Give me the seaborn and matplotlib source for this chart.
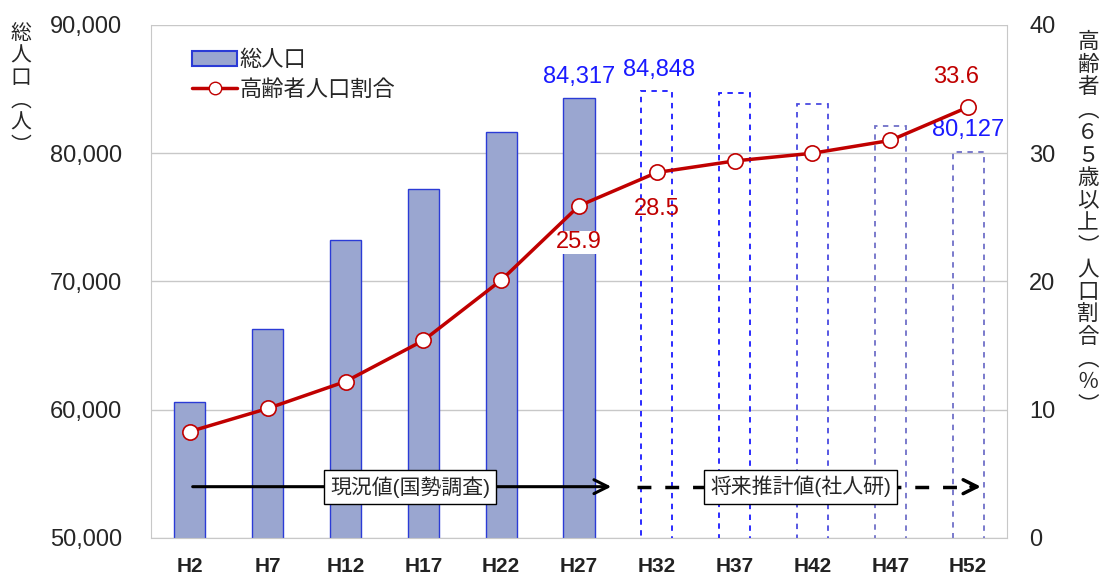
import numpy as np
import pandas as pd
import seaborn as sns
import matplotlib.pyplot as plt
from matplotlib.patches import Patch
from matplotlib.lines import Line2D

# data
years = ["H2", "H7", "H12", "H17", "H22", "H27", "H32", "H37", "H42", "H47", "H52"]
population = [60600, 66300, 73240, 77210, 81660, 84317, 84848, 84700, 83840, 82120, 80127]
elderly_ratio = [8.3, 10.1, 12.2, 15.4, 20.1, 25.9, 28.5, 29.4, 30.0, 31.0, 33.6]
n_actual = 6  # H2..H27 are census values, rest are projections

sns.set_style("white")
plt.rcParams['font.family'] = ['Liberation Sans', 'Noto Sans CJK JP', 'DejaVu Sans']

df = pd.DataFrame({"year": years, "pop": population, "ratio": elderly_ratio})
df["pos"] = np.arange(len(df))

W, H = 1107, 584
fig = plt.figure(figsize=(W / 100, H / 100), dpi=100)
ax = fig.add_axes([0.1364, 0.0788, 0.7733, 0.8784])

sns.barplot(data=df, x="year", y="pop", width=0.4, color="#9aa6d0",
            saturation=1, edgecolor="#2b3bd6", linewidth=1, ax=ax)
future_edges = ["#1a1aff", "#1a1aff", "#4a4ae0", "#7070c8", "#7070c8"]
for i, p in enumerate(ax.patches[n_actual:]):
    p.set_facecolor("none")
    p.set_linestyle((0, (3, 3)))
    p.set_edgecolor(future_edges[i])
    p.set_linewidth(1.3)

ax.set_ylim(50000, 90000)
ax.set_yticks([50000, 60000, 70000, 80000, 90000])
ax.set_yticklabels([f"{v:,}" for v in ax.get_yticks()], fontsize=17)
ax.set_xlim(-0.5, len(years) - 0.5)
ax.set_xlabel("")
ax.set_ylabel("")
ax.set_xticklabels(years, fontsize=15, fontweight="bold", color="#222222")
ax.tick_params(axis="x", length=0, pad=14)
ax.tick_params(axis="y", length=0, pad=21)
ax.yaxis.grid(True, color="#c8c8c8", lw=1)
ax.set_axisbelow(True)
for s in ["left", "bottom", "right", "top"]:
    ax.spines[s].set_color("#c8c8c8")
ax.spines["top"].set_visible(False)

ax2 = ax.twinx()
sns.lineplot(data=df, x="pos", y="ratio", color="#c00000", lw=2.5, marker="o",
             markersize=11, markerfacecolor="white", markeredgecolor="#c00000",
             markeredgewidth=1.2, ax=ax2)
ax2.set_ylim(0, 40)
ax2.set_yticks([0, 10, 20, 30, 40])
ax2.set_yticklabels(["0", "10", "20", "30", "40"], fontsize=17)
ax2.tick_params(axis="y", length=0, pad=16)
ax2.set_ylabel("")
ax2.set_xlabel("")
for s in ["left", "bottom", "right", "top"]:
    ax2.spines[s].set_visible(False)

# bar value labels
ax.text(5, population[5] + 800, "84,317", color="#1a1aff", fontsize=17, ha="center", va="bottom")
ax.text(6.03, population[6] + 800, "84,848", color="#1a1aff", fontsize=17, ha="center", va="bottom")
ax.text(10, population[10] + 800, "80,127", color="#1a1aff", fontsize=17, ha="center", va="bottom",
        bbox=dict(fc="white", ec="none", pad=0.5))

# ratio labels
ax2.text(5, elderly_ratio[5] - 2.0, "25.9", color="#c00000", fontsize=17, ha="center", va="top",
         bbox=dict(fc="white", ec="none", pad=0.5))
ax2.text(6, elderly_ratio[6] - 2.0, "28.5", color="#c00000", fontsize=17, ha="center", va="top")
ax2.text(9.85, elderly_ratio[10] + 1.5, "33.6", color="#c00000", fontsize=17, ha="center", va="bottom")

# arrows: census / projection
ax2.annotate("", xy=(5.45, 4), xytext=(0, 4),
             arrowprops=dict(arrowstyle="->", lw=2.2, color="black", mutation_scale=25))
ax2.plot([5.75, 10.05], [4, 4], ls=(0, (4, 4)), lw=2.5, color="black")
ax2.annotate("", xy=(10.2, 4), xytext=(10.0, 4),
             arrowprops=dict(arrowstyle="->", lw=2.5, color="black", mutation_scale=25))
ax2.text(2.83, 4, "現況値(国勢調査)", fontsize=15, ha="center", va="center",
         bbox=dict(boxstyle="square,pad=0.3", fc="white", ec="black", lw=1))
ax2.text(7.85, 4, "将来推計値(社人研)", fontsize=15, ha="center", va="center",
         bbox=dict(boxstyle="square,pad=0.3", fc="white", ec="black", lw=1))

# legend
handles = [Patch(fc="#9aa6d0", ec="#2b3bd6", lw=1.5),
           Line2D([], [], color="#c00000", lw=2.5, marker="o", markersize=9,
                  markerfacecolor="white", markeredgecolor="#c00000")]
ax2.legend(handles, ["総人口", "高齢者人口割合"], loc="upper left",
           bbox_to_anchor=(0.025, 0.99), frameon=False, fontsize=16,
           handlelength=2.0, handletextpad=0.1, labelspacing=0.4)


# vertical (tategaki) axis titles, one character per row
def vertical_label(text, x_px, y0_px, step_px, size):
    for k, ch in enumerate(text):
        fig.text(x_px / W, 1 - (y0_px + k * step_px) / H, ch, fontsize=size,
                 family=['Noto Sans CJK JP', 'DejaVu Sans'], ha="center", va="center")


vertical_label("総人口︵人︶", 21, 33, 22.5, 15)
vertical_label("高齢者︵６５歳以上︶人口割合︵％︶", 1088, 42, 22.7, 15.5)

fig.savefig("out.png", dpi=100)
